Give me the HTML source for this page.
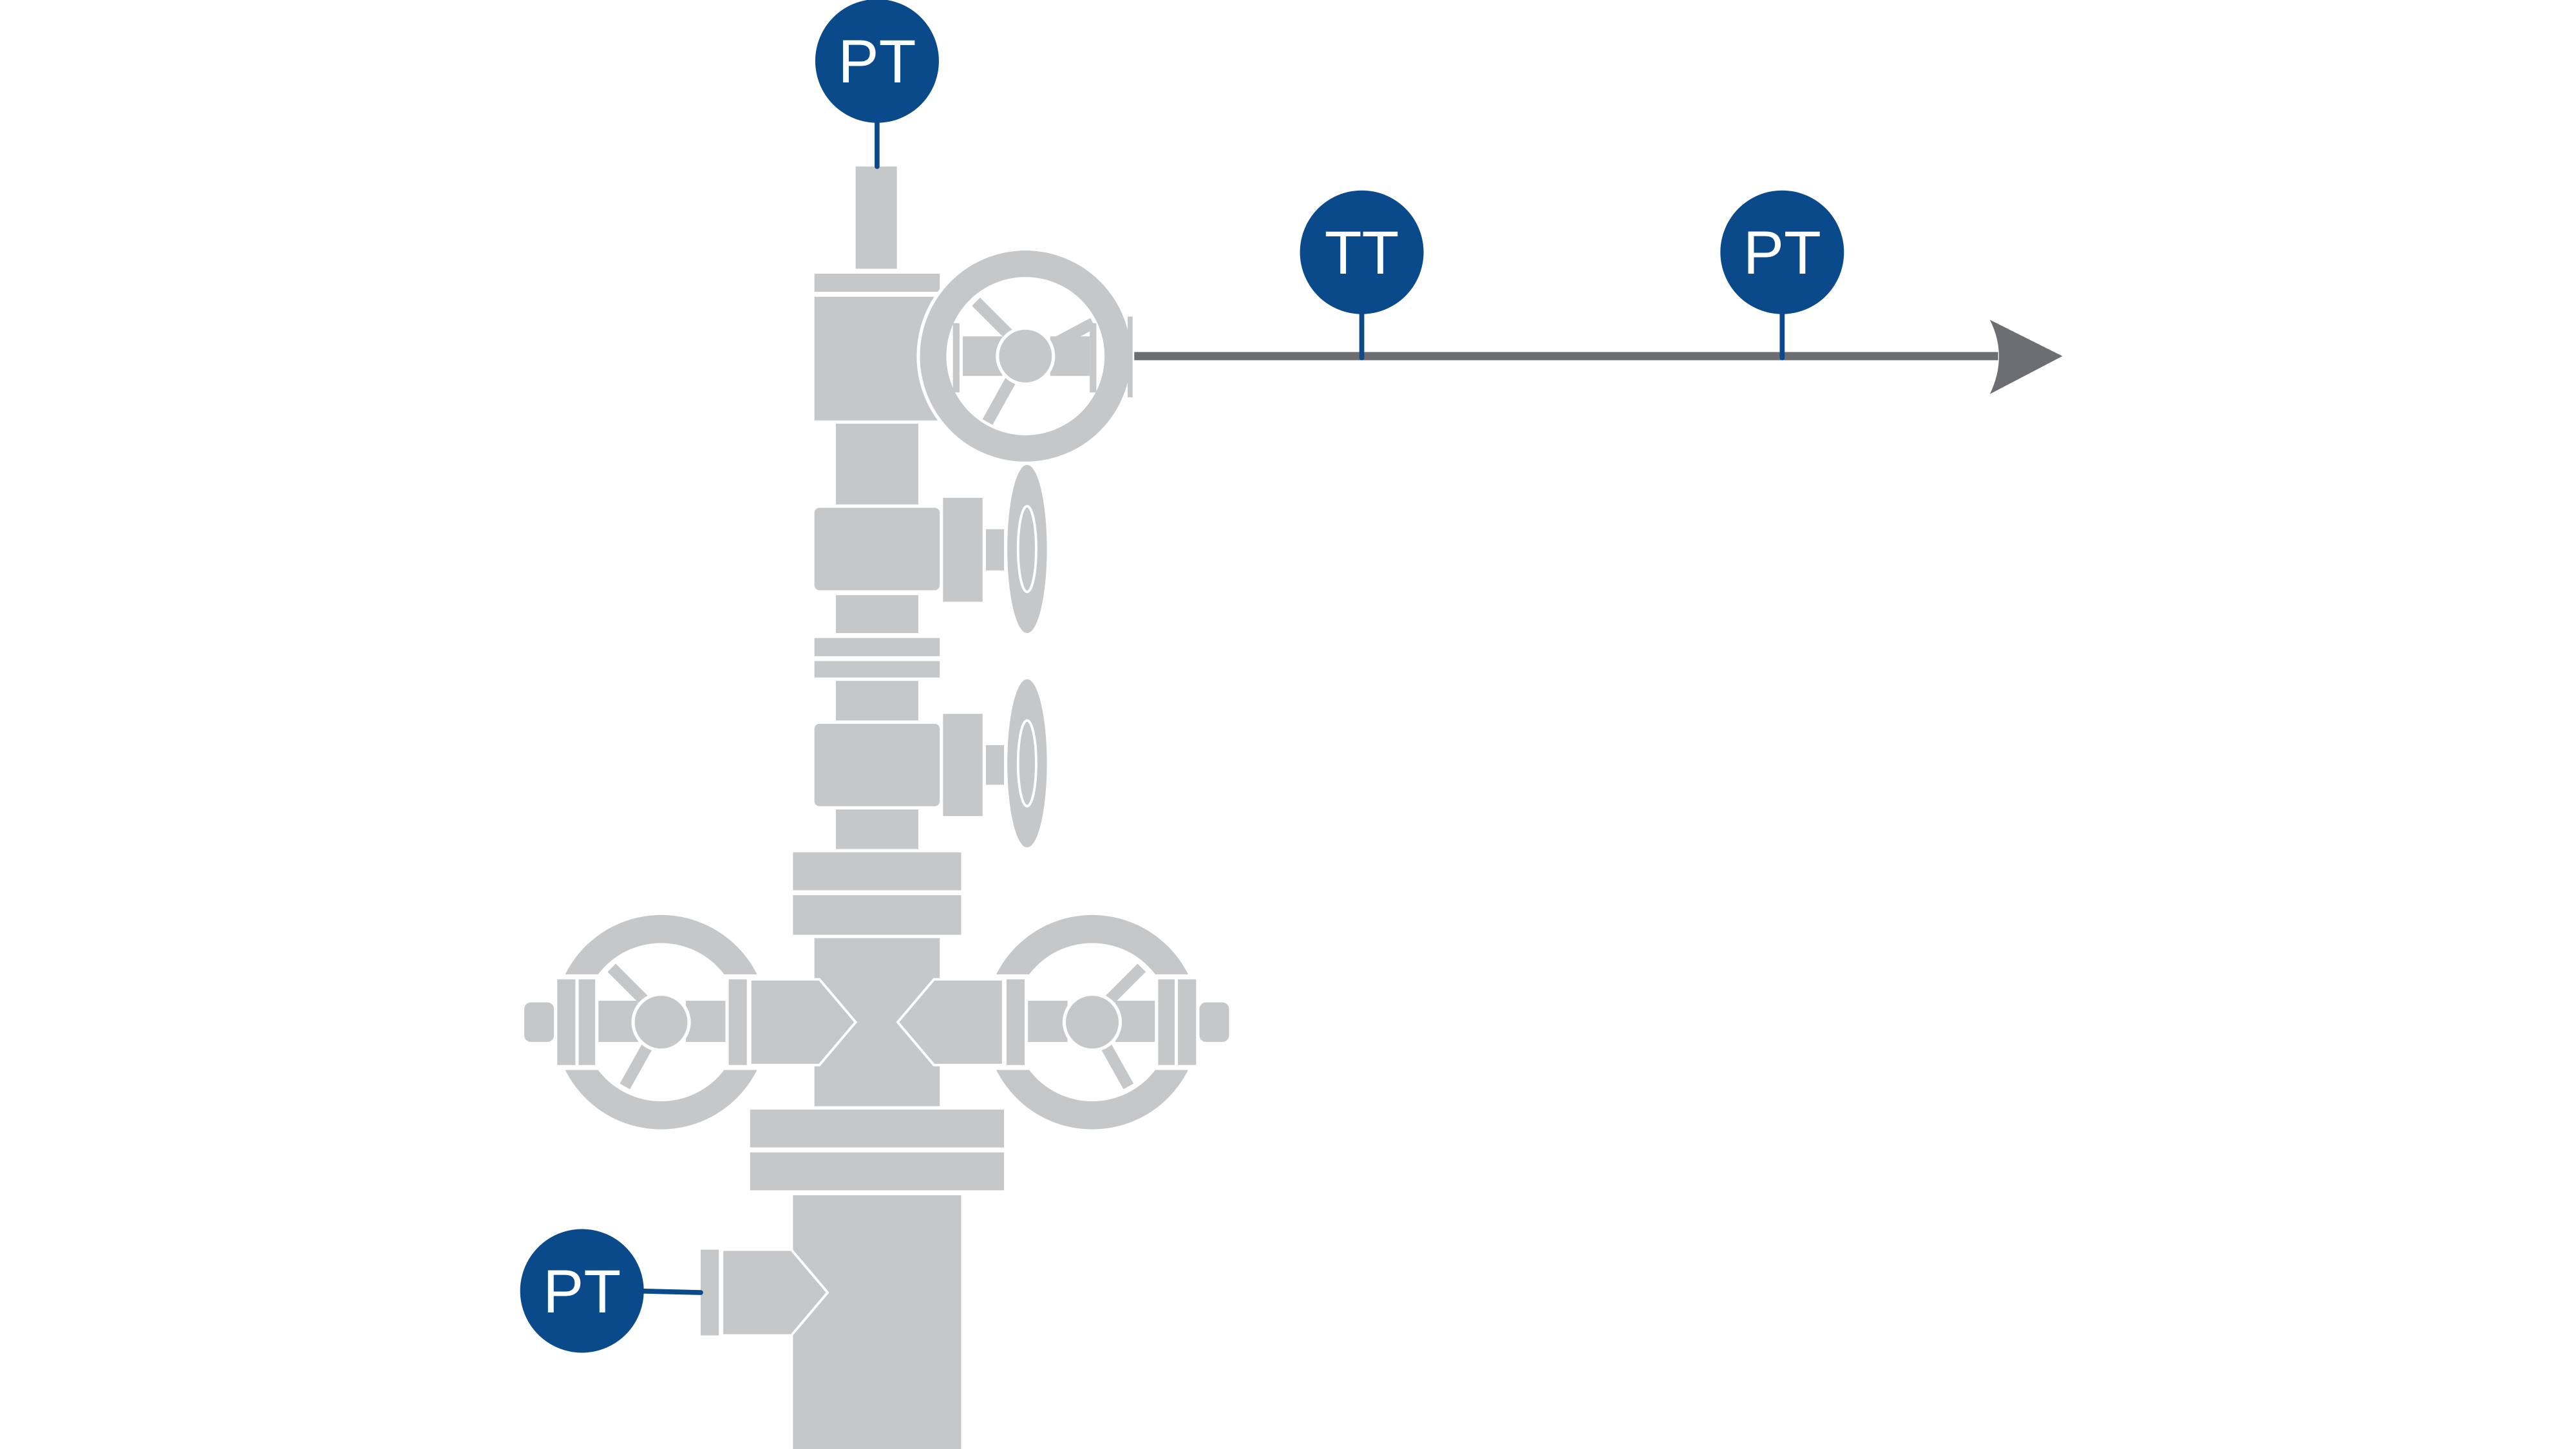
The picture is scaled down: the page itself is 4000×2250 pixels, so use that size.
<!DOCTYPE html>
<html><head><meta charset="utf-8"><style>
html,body{margin:0;padding:0;background:#fff;}
svg{display:block;}
text{font-family:"Liberation Sans",sans-serif;font-weight:normal;fill:#fff;}
</style></head><body>
<svg width="4000" height="2250" viewBox="0 0 1562.5 878.9" xmlns="http://www.w3.org/2000/svg">
<rect width="1562.5" height="878.9" fill="#fff"/>
<g fill="#c6c7c9">
<rect x="519" y="101" width="25" height="62"/>
<rect x="494" y="166" width="76" height="11"/>
<rect x="494" y="180" width="76" height="75"/>
<rect x="507" y="257" width="50" height="49"/>
<rect x="494" y="308" width="76" height="50" rx="3"/>
<rect x="572" y="302" width="24" height="63"/>
<rect x="598" y="321" width="11" height="25"/>
<ellipse cx="623" cy="333" rx="12" ry="51"/>
<rect x="507" y="361" width="50" height="23"/>
<rect x="494" y="387" width="76" height="11"/>
<rect x="494" y="401" width="76" height="10"/>
<rect x="507" y="413" width="50" height="24"/>
<rect x="494" y="439" width="76" height="50" rx="3"/>
<rect x="572" y="433" width="24" height="62"/>
<rect x="598" y="452" width="11" height="24"/>
<ellipse cx="623" cy="463" rx="12" ry="51"/>
<rect x="507" y="491" width="50" height="24"/>
<rect x="481" y="517" width="102" height="23"/>
<rect x="481" y="543" width="102" height="24"/>
<rect x="494" y="569" width="76" height="102"/>
<rect x="455" y="673" width="154" height="23"/>
<rect x="455" y="699" width="154" height="23"/>
<rect x="481" y="725" width="102" height="160"/>
</g>
<g fill="none" stroke="#fff" stroke-width="1.5">
<ellipse cx="623" cy="333" rx="5.5" ry="26"/>
<ellipse cx="623" cy="463" rx="5.5" ry="26"/>
</g>

<circle cx="622" cy="216" r="65" fill="#c6c7c9" stroke="#fff" stroke-width="2"/>
<circle cx="622" cy="216" r="48" fill="#fff"/>
<g fill="#c6c7c9">
<rect x="578" y="196" width="4" height="42"/>
<rect x="661" y="196" width="4" height="42"/>
<rect x="584" y="204" width="24" height="24"/>
<rect x="637" y="204" width="24" height="24"/>
<rect x="684" y="192" width="3" height="49"/>
</g>
<g stroke="#c6c7c9" stroke-width="7">
<line x1="592" y1="183" x2="614" y2="205"/>
<line x1="663" y1="196" x2="633" y2="212"/>
<line x1="599" y1="256" x2="614" y2="229"/>
</g>
<circle cx="622" cy="216" r="17" fill="#c6c7c9" stroke="#fff" stroke-width="2"/>

<line x1="688" y1="216" x2="1212" y2="216" stroke="#6d6e71" stroke-width="5"/>
<path d="M1207,194 L1251,216 L1207,239 Q1218,216 1207,194 Z" fill="#6d6e71"/>

<g id="lw">
<circle cx="401" cy="620" r="65" fill="#c6c7c9"/>
<circle cx="401" cy="620" r="48" fill="#fff"/>
<rect x="330" y="591" width="134" height="58" fill="#fff"/>
<g fill="#c6c7c9">
<rect x="318" y="608" width="18" height="24" rx="4"/>
<rect x="338" y="594" width="11" height="52"/>
<rect x="351" y="594" width="10" height="52"/>
<rect x="363" y="607" width="24" height="25"/>
<rect x="416" y="607" width="24" height="25"/>
<rect x="442" y="594" width="11" height="52"/>
</g>
<g stroke="#c6c7c9" stroke-width="7">
<line x1="371" y1="587" x2="391" y2="607"/>
<line x1="379" y1="659" x2="393" y2="634"/>
</g>
<circle cx="401" cy="620" r="17" fill="#c6c7c9" stroke="#fff" stroke-width="2"/>
<polygon points="455,594 497,594 519,620 497,646 455,646" fill="#c6c7c9" stroke="#fff" stroke-width="1.5"/>
</g>
<use href="#lw" transform="translate(1063.5,0) scale(-1,1)"/>

<rect x="425" y="758" width="11" height="52" fill="#c6c7c9"/>
<polygon points="438,758 480,758 502,784 480,810 438,810" fill="#c6c7c9" stroke="#fff" stroke-width="1.5"/>

<g stroke="#0a4a8a" stroke-width="3" stroke-linecap="round">
<line x1="532" y1="70" x2="532" y2="101"/>
<line x1="826" y1="185" x2="826" y2="217"/>
<line x1="1081" y1="185" x2="1081" y2="217"/>
<line x1="385" y1="783" x2="425" y2="784"/>
</g>
<g fill="#0a4a8a">
<circle cx="532" cy="37" r="37.5"/>
<circle cx="826" cy="153" r="37.5"/>
<circle cx="1081" cy="153" r="37.5"/>
<circle cx="353" cy="783" r="37.5"/>
</g>
<g font-size="37" text-anchor="middle">
<text x="532" y="50">PT</text>
<text x="826" y="166">TT</text>
<text x="1081" y="166">PT</text>
<text x="353" y="796">PT</text>
</g>
</svg>
</body></html>
